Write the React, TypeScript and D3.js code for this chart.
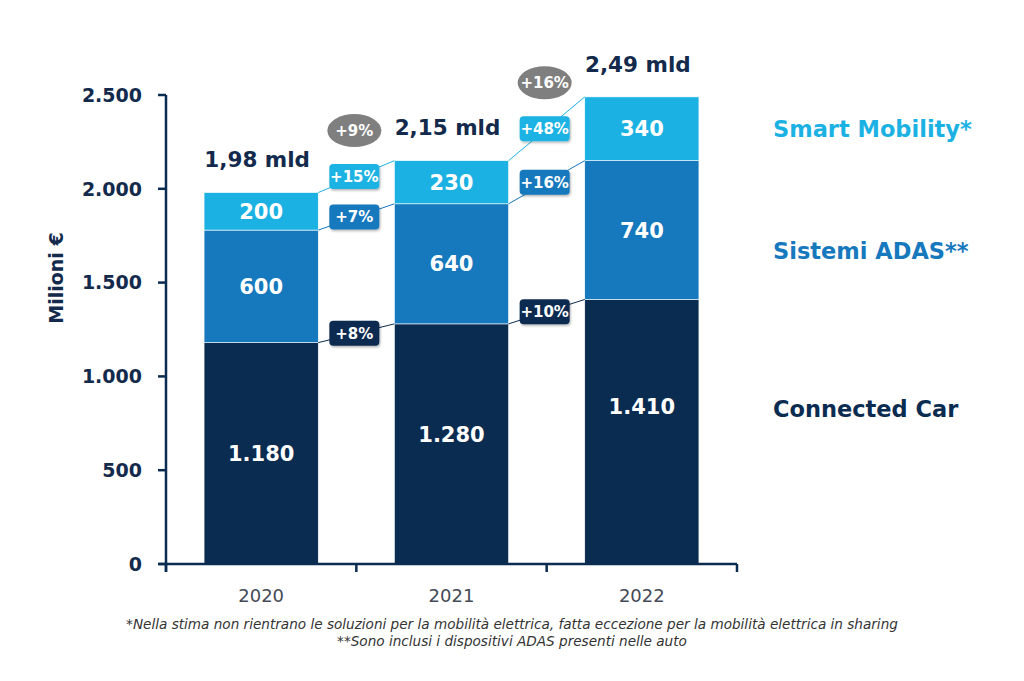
import React from 'react';
import * as d3 from 'd3';

// Valori in milioni di euro
const years = ['2020', '2021', '2022'];
const connectedCar = [1180, 1280, 1410];
const sistemiAdas = [600, 640, 740];
const smartMobility = [200, 230, 340];
const totalLabels = ['1,98 mld', '2,15 mld', '2,49 mld'];
const seriesNames = ['Connected Car', 'Sistemi ADAS**', 'Smart Mobility*'];

// Crescite anno su anno (2020→2021, 2021→2022)
const growthConnected = ['+8%', '+10%'];
const growthAdas = ['+7%', '+16%'];
const growthSmart = ['+15%', '+48%'];
const growthTotal = ['+9%', '+16%'];

const yTicks = [0, 500, 1000, 1500, 2000, 2500];
const yLabel = 'Milioni €';
const footnotes = [
  '*Nella stima non rientrano le soluzioni per la mobilità elettrica, fatta eccezione per la mobilità elettrica in sharing',
  '**Sono inclusi i dispositivi ADAS presenti nelle auto',
];

const NAVY = '#0b2c51';
const TEXT = '#132a4c';
const colors = [NAVY, '#1678bd', '#1bb2e3'];
const legendY = [409, 251, 129];
// spostamento verticale delle etichette della base, per barra
const baseLabelShift = [0, -9, -25];
const FONT = "'DejaVu Sans', sans-serif";

const it = d3.formatLocale({ decimal: ',', thousands: '.', grouping: [3], currency: ['', '€'] });
const fmt = it.format(',');

const App: React.FC = () => {
  const width = 1024;
  const height = 681;
  const axisX = 166;
  const axisRight = 737;
  const yTop = 95;
  const yBottom = 564;

  const rows = years.map((y, i) => ({
    year: y,
    c: connectedCar[i],
    a: sistemiAdas[i],
    s: smartMobility[i],
  }));
  const keys = ['c', 'a', 's'];
  const stacked = d3.stack<any>().keys(keys)(rows);

  const x = d3.scaleBand().domain(years).range([axisX, axisRight]).paddingInner(0.4).paddingOuter(0.2);
  const y = d3.scaleLinear().domain([0, 2500]).range([yBottom, yTop]);
  const bw = x.bandwidth();
  const growth = [growthConnected, growthAdas, growthSmart];

  // confini delle bande per le tacche dell'asse x
  const bandEdges = years.map((yr) => (x(yr) as number) - x.step() * 0.2);
  bandEdges.push(axisRight);

  return (
    <svg width={width} height={height} style={{ position: 'absolute', left: 0, top: 0, background: '#fff' }}>
      <defs>
        <filter id="shadow" x="-30%" y="-30%" width="160%" height="170%">
          <feDropShadow dx="1" dy="1.5" stdDeviation="1.2" floodColor="#000" floodOpacity="0.3" />
        </filter>
      </defs>

      {/* barre impilate */}
      {stacked.map((layer, li) => (
        <g key={li} fill={colors[li]}>
          {layer.map((d, i) => (
            <rect
              key={i}
              x={x(years[i])}
              y={y(d[1])}
              width={bw}
              height={y(d[0]) - y(d[1])}
              stroke="#fff"
              strokeWidth={0.6}
            />
          ))}
        </g>
      ))}

      {/* valori dei segmenti */}
      {stacked.map((layer, li) =>
        layer.map((d, i) => (
          <text
            key={`v${li}-${i}`}
            x={(x(years[i]) as number) + bw / 2}
            y={(y(d[0]) + y(d[1])) / 2 + (li === 0 ? baseLabelShift[i] : 0)}
            dy="0.36em"
            textAnchor="middle"
            fill="#fff"
            fontFamily={FONT}
            fontWeight="bold"
            fontSize={21}
          >
            {fmt(d[1] - d[0])}
          </text>
        ))
      )}

      {/* totali sopra le barre */}
      {stacked[2].map((d, i) => (
        <text
          key={`t${i}`}
          x={(x(years[i]) as number) + bw / 2 - 4}
          y={y(d[1]) - 33}
          dy="0.36em"
          textAnchor="middle"
          fill={TEXT}
          fontFamily={FONT}
          fontWeight="bold"
          fontSize={21.5}
        >
          {totalLabels[i]}
        </text>
      ))}

      {/* linee di collegamento e variazioni */}
      {stacked.map((layer, li) =>
        years.slice(0, -1).map((yr, i) => {
          const x1 = (x(yr) as number) + bw;
          const x2 = x(years[i + 1]) as number;
          const y1 = y(layer[i][1]);
          const y2 = y(layer[i + 1][1]);
          const mx = (x1 + x2) / 2 - 2;
          const my = (y1 + y2) / 2;
          return (
            <g key={`g${li}-${i}`}>
              <line x1={x1} y1={y1} x2={x2} y2={y2} stroke={colors[li]} strokeWidth={1} />
              <rect x={mx - 25} y={my - 12.5} width={50} height={25} rx={4} fill={colors[li]} filter="url(#shadow)" />
              <text
                x={mx}
                y={my}
                dy="0.36em"
                textAnchor="middle"
                fill="#fff"
                fontFamily={FONT}
                fontWeight="bold"
                fontSize={15}
              >
                {growth[li][i]}
              </text>
            </g>
          );
        })
      )}

      {/* crescita del totale */}
      {years.slice(0, -1).map((yr, i) => {
        const x1 = (x(yr) as number) + bw;
        const x2 = x(years[i + 1]) as number;
        const top = (y(stacked[2][i][1]) + y(stacked[2][i + 1][1])) / 2;
        const cx = (x1 + x2) / 2 - 2;
        const cy = top - 46;
        return (
          <g key={`e${i}`}>
            <ellipse cx={cx} cy={cy} rx={27} ry={16.5} fill="#7f7f7f" />
            <text
              x={cx}
              y={cy}
              dy="0.36em"
              textAnchor="middle"
              fill="#fff"
              fontFamily={FONT}
              fontWeight="bold"
              fontSize={15}
            >
              {growthTotal[i]}
            </text>
          </g>
        );
      })}

      {/* asse y */}
      <line x1={axisX} y1={yTop} x2={axisX} y2={yBottom + 8} stroke={NAVY} strokeWidth={2.5} />
      {yTicks.map((t) => (
        <g key={`y${t}`}>
          <line x1={axisX - 8} x2={axisX} y1={y(t)} y2={y(t)} stroke={NAVY} strokeWidth={2.5} />
          <text
            x={axisX - 24}
            y={y(t)}
            dy="0.36em"
            textAnchor="end"
            fill={TEXT}
            fontFamily={FONT}
            fontWeight="bold"
            fontSize={19}
          >
            {fmt(t)}
          </text>
        </g>
      ))}
      <text
        transform="translate(56,278) rotate(-90)"
        dy="0.36em"
        textAnchor="middle"
        fill={TEXT}
        fontFamily={FONT}
        fontWeight="bold"
        fontSize={19}
      >
        {yLabel}
      </text>

      {/* asse x */}
      <line x1={axisX - 8} x2={axisRight} y1={yBottom} y2={yBottom} stroke={NAVY} strokeWidth={2.5} />
      {bandEdges.map((bx, i) => (
        <line key={`xt${i}`} x1={bx} x2={bx} y1={yBottom} y2={yBottom + 8} stroke={NAVY} strokeWidth={2.5} />
      ))}
      {years.map((yr) => (
        <text
          key={`xl${yr}`}
          x={(x(yr) as number) + bw / 2}
          y={596}
          dy="0.36em"
          textAnchor="middle"
          fill="#454a57"
          fontFamily={FONT}
          fontSize={18}
        >
          {yr}
        </text>
      ))}

      {/* legenda */}
      {seriesNames.map((name, i) => (
        <text
          key={`l${i}`}
          x={773}
          y={legendY[i]}
          dy="0.36em"
          fill={colors[i]}
          fontFamily={FONT}
          fontWeight="bold"
          fontSize={22.5}
        >
          {name}
        </text>
      ))}

      {/* note */}
      {footnotes.map((f, i) => (
        <text
          key={`n${i}`}
          x={512}
          y={624 + i * 17}
          dy="0.36em"
          textAnchor="middle"
          fill="#333"
          fontFamily={FONT}
          fontStyle="italic"
          fontSize={13.6}
        >
          {f}
        </text>
      ))}
    </svg>
  );
};

export default App;
